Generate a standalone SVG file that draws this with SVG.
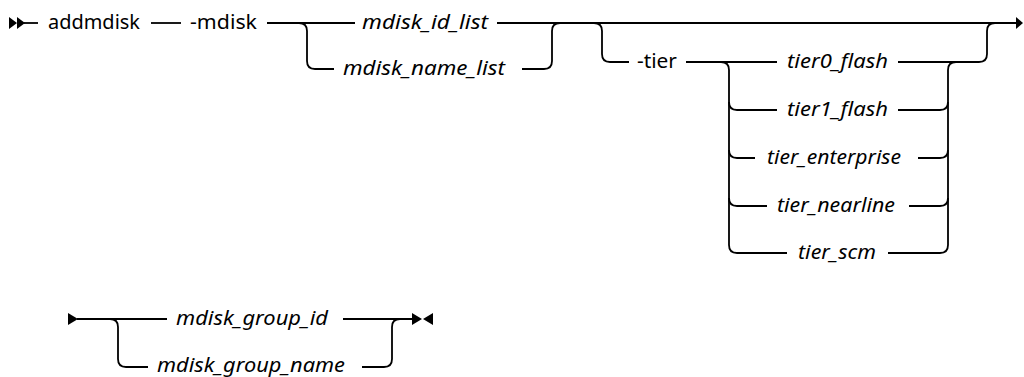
<svg xmlns="http://www.w3.org/2000/svg" width="1024" height="377" viewBox="0 0 1024 377">
<style>
.ln{fill:none;stroke:#000;stroke-width:1.8}
.ah{fill:#000;stroke:none}
.t{font-family:"Noto Sans","Liberation Sans",sans-serif;font-size:20px;fill:#000}
.v{font-family:"Noto Sans","Liberation Sans",sans-serif;font-size:20px;font-style:italic;fill:#000}
</style>
<rect width="1024" height="377" fill="#fff"/>
<g id="connectors">
<path class="ah" d="M9,17 L17,23 L9,29 Z M17,17 L25,23 L17,29 Z"/>
<path class="ln" d="M24,23 H38"/>
<path class="ln" d="M151,23 H181"/>
<path class="ln" d="M267,23 H355"/>
<path class="ln" d="M299,23 Q307,23 307,31 V61 Q307,69 315,69 H334"/>
<path class="ln" d="M497,23 H1017"/>
<path class="ln" d="M522,69 H544 Q552,69 552,61 V31 Q552,23 560,23"/>
<path class="ln" d="M594,23 Q602,23 602,31 V54 Q602,62 610,62 H629"/>
<path class="ln" d="M686,62 H777"/>
<path class="ln" d="M721,62 Q729,62 729,70 V245 Q729,253 737,253 H787"/>
<path class="ln" d="M729,102 Q729,110 737,110 H777"/>
<path class="ln" d="M729,150 Q729,158 737,158 H755"/>
<path class="ln" d="M729,198 Q729,206 737,206 H767"/>
<path class="ln" d="M898,62 H979 Q987,62 987,54 V31 Q987,23 995,23"/>
<path class="ln" d="M956,62 Q948,62 948,70 V245 Q948,253 940,253 H888"/>
<path class="ln" d="M898,110 H940 Q948,110 948,102"/>
<path class="ln" d="M918,158 H940 Q948,158 948,150"/>
<path class="ln" d="M909,206 H940 Q948,206 948,198"/>
<path class="ah" d="M1016,17 L1023,23 L1016,29 Z"/>
<path class="ah" d="M68,313 L78,319 L68,325 Z"/>
<path class="ln" d="M77,319 H167"/>
<path class="ln" d="M110,319 Q118,319 118,327 V359 Q118,367 126,367 H148"/>
<path class="ln" d="M343,319 H413"/>
<path class="ln" d="M362,367 H384 Q392,367 392,359 V327 Q392,319 400,319"/>
<path class="ah" d="M412,313 L422,319 L412,325 Z M433,313 L423,319 L433,325 Z"/>
</g>
<g id="cmd"><text class="t" x="48" y="29" textLength="92" lengthAdjust="spacingAndGlyphs">addmdisk</text></g>
<g id="opt-mdisk"><text class="t" x="190" y="29" textLength="67" lengthAdjust="spacingAndGlyphs">-mdisk</text></g>
<g id="mdisk-id-list"><text class="v" x="362" y="29" textLength="126" lengthAdjust="spacingAndGlyphs">mdisk_id_list</text></g>
<g id="mdisk-name-list"><text class="v" x="343" y="75" textLength="162" lengthAdjust="spacingAndGlyphs">mdisk_name_list</text></g>
<g id="opt-tier"><text class="t" x="637" y="68" textLength="40" lengthAdjust="spacingAndGlyphs">-tier</text></g>
<g id="tier0"><text class="v" x="787" y="68" textLength="101" lengthAdjust="spacingAndGlyphs">tier0_flash</text></g>
<g id="tier1"><text class="v" x="787" y="116" textLength="101" lengthAdjust="spacingAndGlyphs">tier1_flash</text></g>
<g id="tier-ent"><text class="v" x="767" y="164" textLength="134" lengthAdjust="spacingAndGlyphs">tier_enterprise</text></g>
<g id="tier-near"><text class="v" x="777" y="212" textLength="118" lengthAdjust="spacingAndGlyphs">tier_nearline</text></g>
<g id="tier-scm"><text class="v" x="798" y="259" textLength="78" lengthAdjust="spacingAndGlyphs">tier_scm</text></g>
<g id="group-id"><text class="v" x="176" y="325" textLength="152" lengthAdjust="spacingAndGlyphs">mdisk_group_id</text></g>
<g id="group-name"><text class="v" x="157" y="372" textLength="188" lengthAdjust="spacingAndGlyphs">mdisk_group_name</text></g>
</svg>
